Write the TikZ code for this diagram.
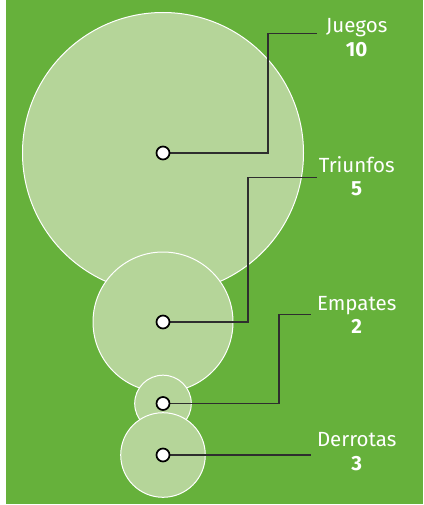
\documentclass[tikz,border=0pt]{standalone}
\usepackage{fontspec}
\setmainfont{Fira Sans}
\usetikzlibrary{positioning}
\definecolor{pitch}{HTML}{66B13B}
\definecolor{disc}{HTML}{B5D599}
\definecolor{leader}{HTML}{2E2E2E}

\begin{document}
\begin{tikzpicture}[x=1pt,y=-1pt,
bubble/.style={circle,draw=white,line width=1pt,fill=disc,inner sep=0pt},
dot/.style={circle,draw=black,line width=1.7pt,fill=white,minimum size=13pt,inner sep=0pt},
lbl/.style={text=white,font=\fontsize{20.5}{21}\selectfont,inner sep=0pt,anchor=base},
num/.style={text=white,font=\fontsize{20.5}{21}\selectfont\bfseries,inner sep=0pt,anchor=base},
leaderline/.style={draw=leader,line width=1.4pt}]
\useasboundingbox (0,0) rectangle (423,505);
\fill[pitch] (6,0) rectangle (423,504);

% bubbles
\node (juegos) [bubble,minimum size=281pt] at (163,153) {};
\node (triunfos) [bubble,minimum size=140pt] at (163,322) {};
\node (empates) [bubble,minimum size=56.6pt] at (163,403.5) {};
\node (derrotas) [bubble,minimum size=84.6pt] at (163,455) {};

% labels
\node (tjuegos) [lbl] at (356.7,33) {Juegos};
\node (njuegos) [num] at ([yshift=-23.5pt]tjuegos.base) {10};
\node (ttriunfos) [lbl] at (356.7,172.3) {Triunfos};
\node (ntriunfos) [num] at ([yshift=-23pt]ttriunfos.base) {5};
\node (tempates) [lbl] at (356.7,310) {Empates};
\node (nempates) [num] at ([yshift=-23pt]tempates.base) {2};
\node (tderrotas) [lbl] at (356.7,446.7) {Derrotas};
\node (nderrotas) [num] at ([yshift=-24pt]tderrotas.base) {3};

% leader ends
\coordinate (kjuegos) at (268,33.3);
\coordinate (ejuegos) at (316.7,33.3);
\coordinate (ktriunfos) at (248,177.3);
\coordinate (etriunfos) at (316.7,177.3);
\coordinate (kempates) at (279,314.3);
\coordinate (eempates) at (310.7,314.3);
\coordinate (ederrotas) at (310.7,455);

\draw[leaderline] (juegos.center) -| (kjuegos) -- (ejuegos);
\draw[leaderline] (triunfos.center) -| (ktriunfos) -- (etriunfos);
\draw[leaderline] (empates.center) -| (kempates) -- (eempates);
\draw[leaderline] (derrotas.center) -- (ederrotas);

% centre dots
\node (pjuegos) [dot] at (juegos.center) {};
\node (ptriunfos) [dot] at (triunfos.center) {};
\node (pempates) [dot] at (empates.center) {};
\node (pderrotas) [dot] at (derrotas.center) {};
\end{tikzpicture}
\end{document}
